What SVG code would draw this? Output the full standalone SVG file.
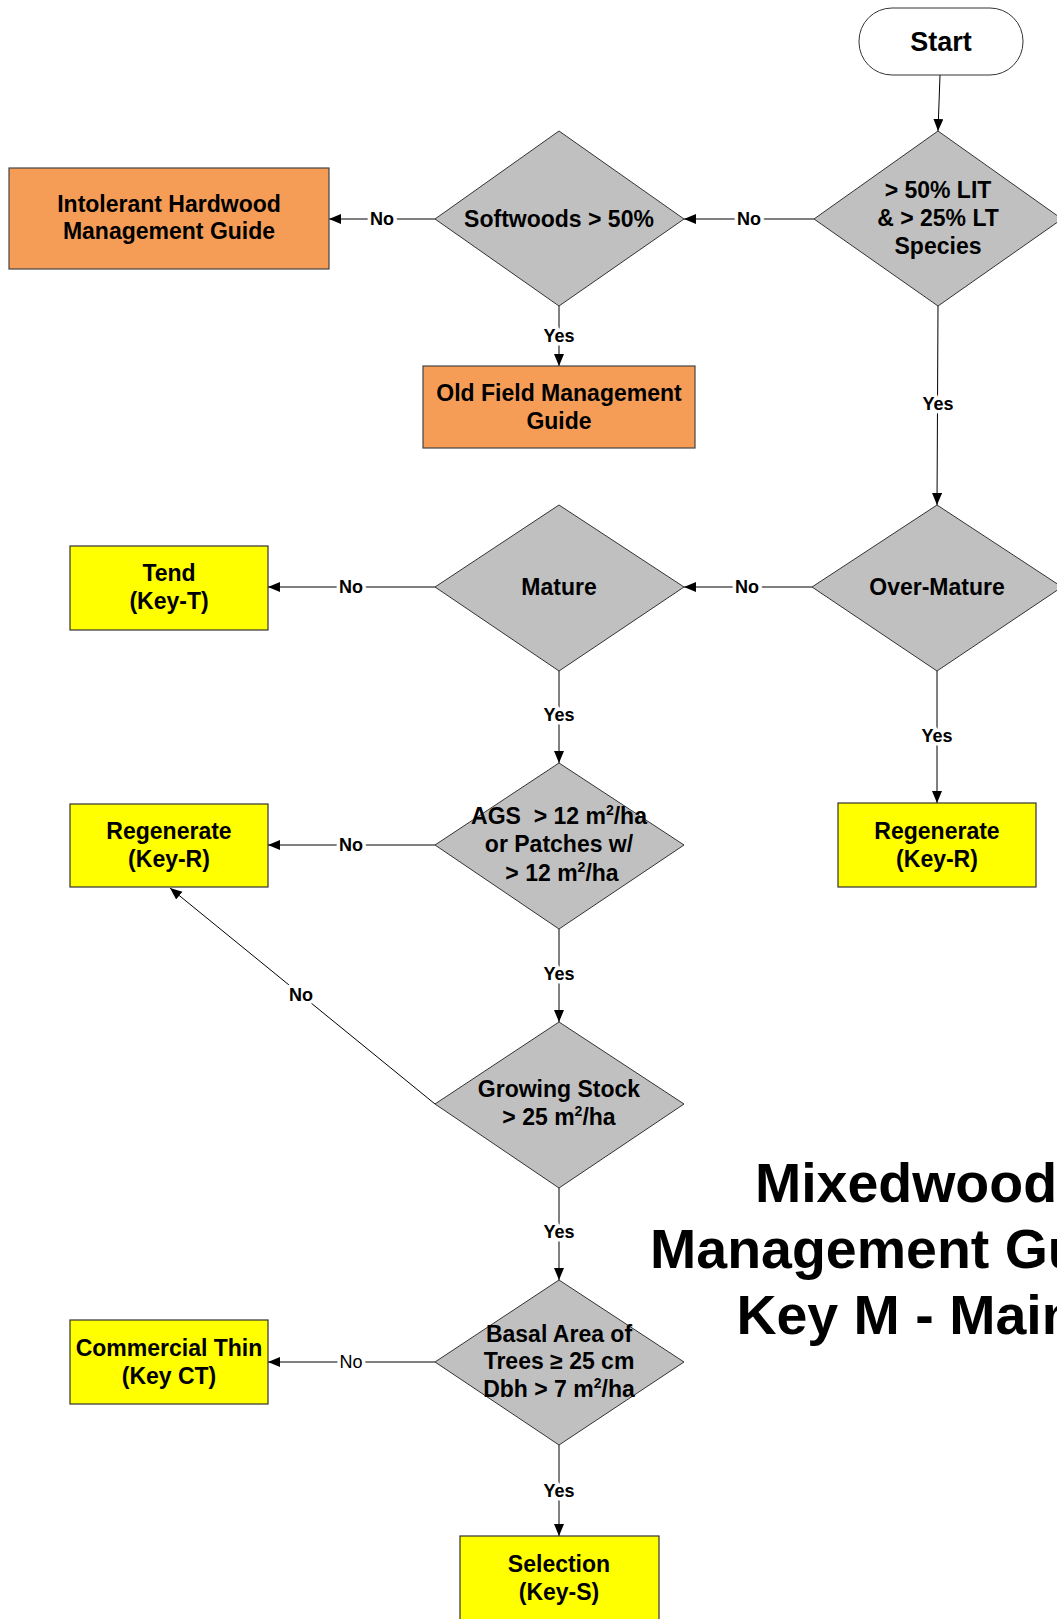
<svg xmlns="http://www.w3.org/2000/svg" width="1057" height="1619" viewBox="0 0 1057 1619">
<style>
.t{font-family:"Liberation Sans",Arial,sans-serif;font-weight:bold;font-size:23px;fill:#000;text-anchor:middle}
.lbl{font-family:"Liberation Sans",Arial,sans-serif;font-weight:bold;font-size:18px;fill:#000;text-anchor:middle;stroke:#fff;stroke-width:7px;paint-order:stroke;stroke-linejoin:round}
.lbln{font-weight:normal}
.dia{fill:#C0C0C0;stroke:#333;stroke-width:1}
.org{fill:#F59D56;stroke:#444;stroke-width:1.2}
.yel{fill:#FFFF00;stroke:#333;stroke-width:1.2}
.con{stroke:#000;stroke-width:1;fill:none;marker-end:url(#ah)}
.title{font-family:"Liberation Sans",Arial,sans-serif;font-weight:bold;font-size:55.5px;fill:#000;text-anchor:middle}
</style>
<defs>
<marker id="ah" markerUnits="userSpaceOnUse" markerWidth="13" markerHeight="11" refX="12" refY="5" orient="auto" viewBox="0 0 13 11">
<path d="M0,0 L12,5 L0,10 z" fill="#000"/>
</marker>
</defs>
<rect width="1057" height="1619" fill="#fff"/>

<g id="connectors">
<line class="con" x1="940" y1="75" x2="938" y2="131"/>
<line class="con" x1="814" y1="219" x2="684" y2="219"/>
<line class="con" x1="435" y1="219" x2="329" y2="219"/>
<line class="con" x1="559" y1="306" x2="559" y2="366"/>
<line class="con" x1="938" y1="306" x2="937" y2="505"/>
<line class="con" x1="812" y1="587" x2="684" y2="587"/>
<line class="con" x1="435" y1="587" x2="268" y2="587"/>
<line class="con" x1="937" y1="671" x2="937" y2="803"/>
<line class="con" x1="559" y1="671" x2="559" y2="763"/>
<line class="con" x1="435" y1="845" x2="268" y2="845"/>
<line class="con" x1="559" y1="929" x2="559" y2="1022"/>
<line class="con" x1="435" y1="1104" x2="170" y2="888"/>
<line class="con" x1="559" y1="1188" x2="559" y2="1280"/>
<line class="con" x1="435" y1="1362" x2="268" y2="1362"/>
<line class="con" x1="559" y1="1445" x2="559" y2="1536"/>
<text class="lbl" x="749" y="225">No</text>
<text class="lbl" x="382" y="225">No</text>
<text class="lbl" x="559" y="342">Yes</text>
<text class="lbl" x="938" y="410">Yes</text>
<text class="lbl" x="747" y="593">No</text>
<text class="lbl" x="351" y="593">No</text>
<text class="lbl" x="937" y="742">Yes</text>
<text class="lbl" x="559" y="721">Yes</text>
<text class="lbl" x="351" y="851">No</text>
<text class="lbl" x="559" y="980">Yes</text>
<text class="lbl" x="301" y="1001">No</text>
<text class="lbl" x="559" y="1238">Yes</text>
<text class="lbl lbln" x="351" y="1368">No</text>
<text class="lbl" x="559" y="1497">Yes</text>
</g>

<g id="start">
<rect x="859" y="8" width="164" height="67" rx="33" ry="33" fill="#fff" stroke="#333" stroke-width="1"/>
<text class="t" x="941" y="51" style="font-size:27px">Start</text>
</g>

<g id="lit">
<polygon class="dia" points="938,131 1062,219 938,306 814,219"/>
<text class="t" x="938" y="198">&gt; 50% LIT</text>
<text class="t" x="938" y="226">&amp; &gt; 25% LT</text>
<text class="t" x="938" y="254">Species</text>
</g>

<g id="softwoods">
<polygon class="dia" points="559,131 684,219 559,306 435,219"/>
<text class="t" x="559" y="227">Softwoods &gt; 50%</text>
</g>

<g id="intolerant">
<rect class="org" x="9" y="168" width="320" height="101"/>
<text class="t" x="169" y="212">Intolerant Hardwood</text>
<text class="t" x="169" y="239">Management Guide</text>
</g>

<g id="oldfield">
<rect class="org" x="423" y="366" width="272" height="82"/>
<text class="t" x="559" y="401">Old Field Management</text>
<text class="t" x="559" y="429">Guide</text>
</g>

<g id="overmature">
<polygon class="dia" points="937,505 1062,587 937,671 812,587"/>
<text class="t" x="937" y="595">Over-Mature</text>
</g>

<g id="mature">
<polygon class="dia" points="559,505 684,587 559,671 435,587"/>
<text class="t" x="559" y="595">Mature</text>
</g>

<g id="tend">
<rect class="yel" x="70" y="546" width="198" height="84"/>
<text class="t" x="169" y="581">Tend</text>
<text class="t" x="169" y="609">(Key-T)</text>
</g>

<g id="regen-right">
<rect class="yel" x="838" y="803" width="198" height="84"/>
<text class="t" x="937" y="839">Regenerate</text>
<text class="t" x="937" y="867">(Key-R)</text>
</g>

<g id="ags">
<polygon class="dia" points="559,763 684,845 559,929 435,845"/>
<text class="t" x="559" y="824" xml:space="preserve">AGS  &gt; 12 m<tspan font-size="14" dy="-9">2</tspan><tspan dy="9">/ha</tspan></text>
<text class="t" x="559" y="852">or Patches w/</text>
<text class="t" x="562" y="881">&gt; 12 m<tspan font-size="14" dy="-9">2</tspan><tspan dy="9">/ha</tspan></text>
</g>

<g id="regen-left">
<rect class="yel" x="70" y="804" width="198" height="83"/>
<text class="t" x="169" y="839">Regenerate</text>
<text class="t" x="169" y="867">(Key-R)</text>
</g>

<g id="growing">
<polygon class="dia" points="559,1022 684,1104 559,1188 435,1104"/>
<text class="t" x="559" y="1097">Growing Stock</text>
<text class="t" x="559" y="1125">&gt; 25 m<tspan font-size="14" dy="-9">2</tspan><tspan dy="9">/ha</tspan></text>
</g>

<g id="basal">
<polygon class="dia" points="559,1280 684,1362 559,1445 435,1362"/>
<text class="t" x="559" y="1342">Basal Area of</text>
<text class="t" x="559" y="1369">Trees ≥ 25 cm</text>
<text class="t" x="559" y="1397">Dbh &gt; 7 m<tspan font-size="14" dy="-9">2</tspan><tspan dy="9">/ha</tspan></text>
</g>

<g id="commercial">
<rect class="yel" x="70" y="1320" width="198" height="84"/>
<text class="t" x="169" y="1356">Commercial Thin</text>
<text class="t" x="169" y="1384">(Key CT)</text>
</g>

<g id="selection">
<rect class="yel" x="460" y="1536" width="199" height="90"/>
<text class="t" x="559" y="1572">Selection</text>
<text class="t" x="559" y="1600">(Key-S)</text>
</g>

<g id="title">
<text class="title" x="906" y="1202">Mixedwood</text>
<text class="title" x="906" y="1268">Management Guide</text>
<text class="title" x="906" y="1334">Key M - Main</text>
</g>
</svg>
